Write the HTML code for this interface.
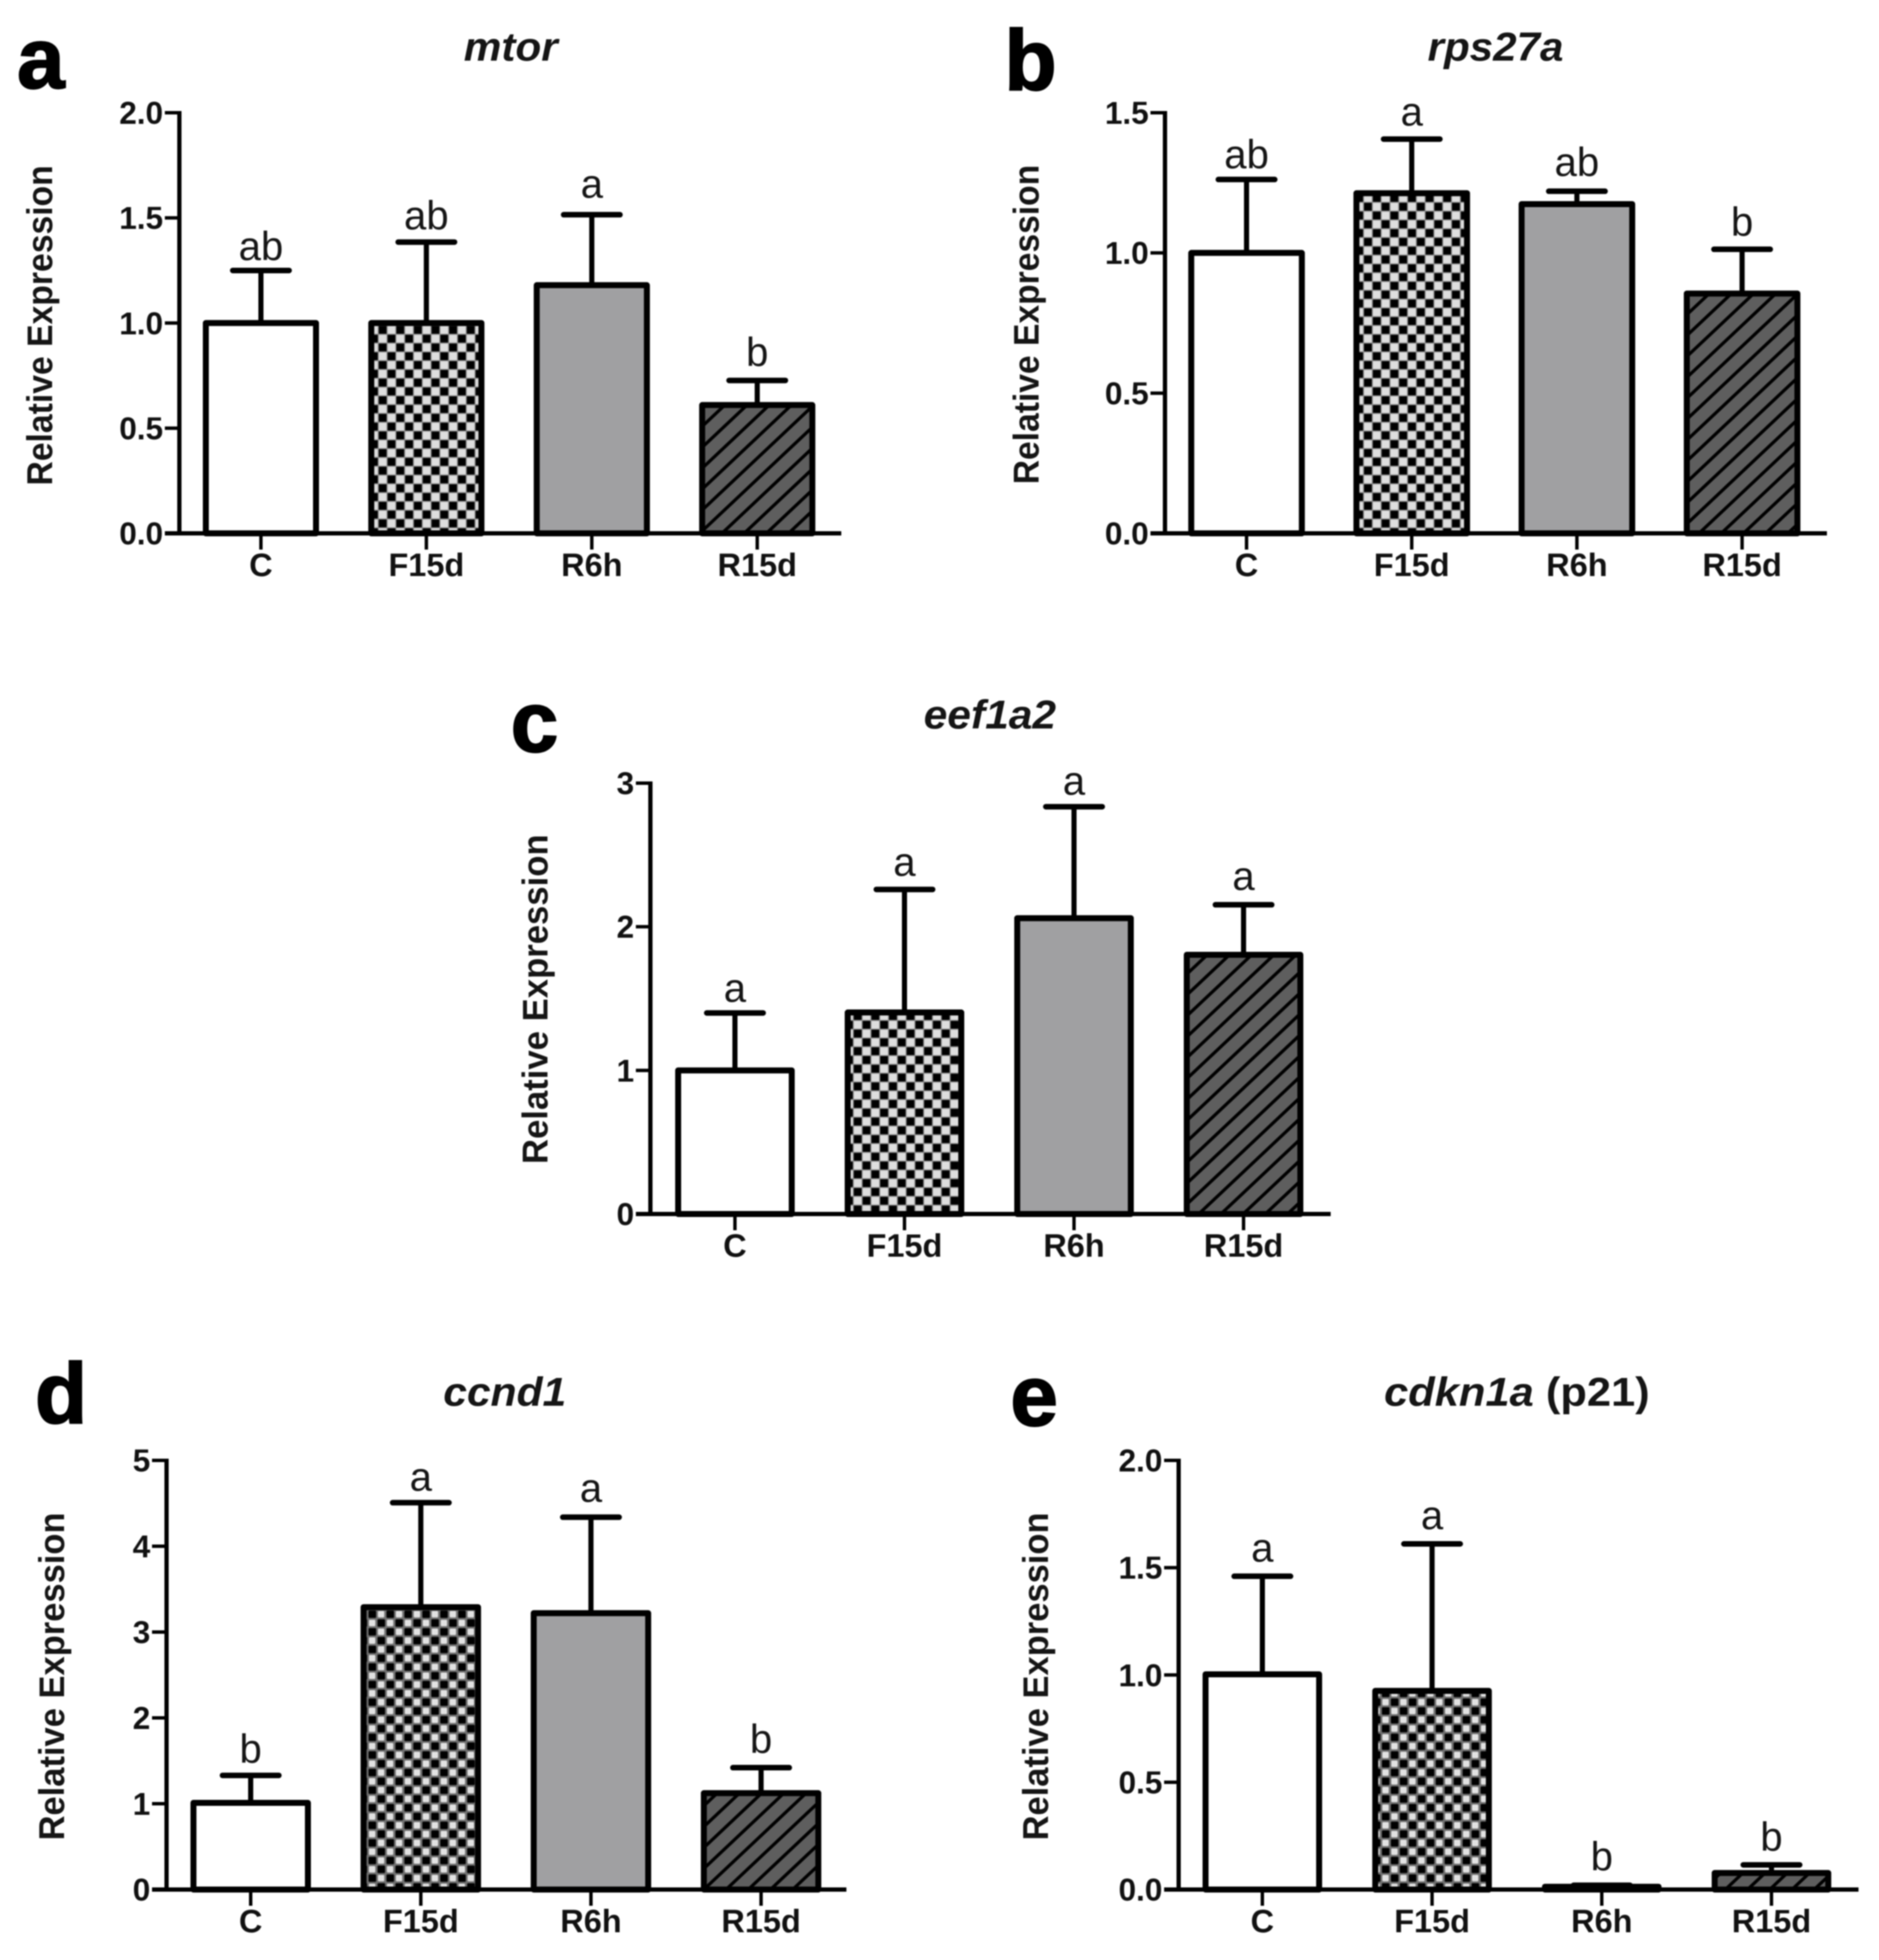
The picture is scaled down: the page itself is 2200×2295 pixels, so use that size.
<!DOCTYPE html>
<html lang="en">
<head>
<meta charset="utf-8">
<title>Relative expression of mtor, rps27a, eef1a2, ccnd1 and cdkn1a</title>
<style>
  html, body { margin: 0; padding: 0; background: #fff; }
  body { width: 2200px; height: 2295px; overflow: hidden; }
  svg { display: block; font-family: "Liberation Sans", Arial, sans-serif; filter: blur(0.7px); }
  .panel-letter { font-size: 100px; font-weight: 700; fill: #000; stroke: #000; stroke-width: 2px; }
  .gene-title { font-size: 47px; font-weight: 700; font-style: italic; fill: #151515; text-anchor: middle; }
  .gene-title .plain { font-style: normal; }
  .y-title { font-size: 42px; font-weight: 700; fill: #151515; text-anchor: middle; }
  .tick-label { font-size: 37px; font-weight: 700; fill: #111; text-anchor: end; }
  .cat-label { font-size: 38px; font-weight: 700; fill: #111; text-anchor: middle; }
  .sig-label { font-size: 47px; fill: #151515; text-anchor: middle; }
</style>
</head>
<body>
<svg id="figure" xmlns="http://www.w3.org/2000/svg" width="2200" height="2295" viewBox="0 0 2200 2295">
  <defs>
    <pattern id="checker" patternUnits="userSpaceOnUse" x="0" y="0" width="20.6" height="20.6">
      <rect width="20.6" height="20.6" fill="#8a8a8a"/>
      <rect x="0.6" y="0.6" width="9.1" height="9.1" fill="#000"/>
      <rect x="10.9" y="10.9" width="9.1" height="9.1" fill="#000"/>
      <rect x="10.9" y="0.6" width="9.1" height="9.1" fill="#dedede"/>
      <rect x="0.6" y="10.9" width="9.1" height="9.1" fill="#dedede"/>
    </pattern>
    <pattern id="checker-soft" patternUnits="userSpaceOnUse" x="0" y="0" width="21" height="20.6">
      <rect width="21" height="20.6" fill="#707070"/>
      <rect x="1" y="0.8" width="8.8" height="8.8" rx="1" fill="#000"/>
      <rect x="11.5" y="11.1" width="8.8" height="8.8" rx="1" fill="#000"/>
      <rect x="12" y="1.5" width="7.4" height="7.4" rx="1" fill="#e2e2e2"/>
      <rect x="1.5" y="11.8" width="7.4" height="7.4" rx="1" fill="#e2e2e2"/>
    </pattern>
    <pattern id="hatch" patternUnits="userSpaceOnUse" x="0" y="0" width="26" height="24.5">
      <rect width="26" height="24.5" fill="#5e5e5e"/>
      <path d="M-6.5 6.125 L6.5 -6.125 M-6.5 30.625 L32.5 -6.125 M19.5 30.625 L32.5 18.375" stroke="#000" stroke-width="3.8" fill="none"/>
    </pattern>
  </defs>

  <!-- Panel letters -->
  <text class="panel-letter" x="20" y="103">a</text>
  <text class="panel-letter" x="1176" y="105">b</text>
  <text class="panel-letter" x="598" y="880">c</text>
  <text class="panel-letter" x="41" y="1666">d</text>
  <text class="panel-letter" x="1183" y="1669">e</text>

  <!-- Gene titles -->
  <text class="gene-title" x="598" y="71" textLength="110" lengthAdjust="spacingAndGlyphs">mtor</text>
  <text class="gene-title" x="1751" y="71" textLength="159" lengthAdjust="spacingAndGlyphs">rps27a</text>
  <text class="gene-title" x="1159" y="853" textLength="155" lengthAdjust="spacingAndGlyphs">eef1a2</text>
  <text class="gene-title" x="591" y="1646" textLength="144" lengthAdjust="spacingAndGlyphs">ccnd1</text>
  <text class="gene-title" x="1776" y="1646" textLength="311" lengthAdjust="spacingAndGlyphs">cdkn1a <tspan class="plain">(p21)</tspan></text>

  <!-- Y axis titles -->
  <text class="y-title" transform="translate(61 381) rotate(-90)" textLength="375" lengthAdjust="spacingAndGlyphs">Relative Expression</text>
  <text class="y-title" transform="translate(1216 380) rotate(-90)" textLength="374" lengthAdjust="spacingAndGlyphs">Relative Expression</text>
  <text class="y-title" transform="translate(641 1170) rotate(-90)" textLength="386" lengthAdjust="spacingAndGlyphs">Relative Expression</text>
  <text class="y-title" transform="translate(75 1963) rotate(-90)" textLength="384" lengthAdjust="spacingAndGlyphs">Relative Expression</text>
  <text class="y-title" transform="translate(1227 1963) rotate(-90)" textLength="384" lengthAdjust="spacingAndGlyphs">Relative Expression</text>

  <g id="charts"></g>
</svg>

<script>
// ---- Chart data ----
const categories = ['C', 'F15d', 'R6h', 'R15d'];

const mtorTicks = ['0.0', '0.5', '1.0', '1.5', '2.0'];
const mtorMeans = [1.00, 1.00, 1.18, 0.61];
const mtorErrorTops = [1.25, 1.385, 1.515, 0.727];
const mtorLetters = ['ab', 'ab', 'a', 'b'];

const rps27aTicks = ['0.0', '0.5', '1.0', '1.5'];
const rps27aMeans = [1.00, 1.213, 1.174, 0.855];
const rps27aErrorTops = [1.262, 1.406, 1.22, 1.013];
const rps27aLetters = ['ab', 'a', 'ab', 'b'];

const eef1a2Ticks = ['0', '1', '2', '3'];
const eef1a2Means = [1.00, 1.403, 2.06, 1.805];
const eef1a2ErrorTops = [1.40, 2.26, 2.836, 2.153];
const eef1a2Letters = ['a', 'a', 'a', 'a'];

const ccnd1Ticks = ['0', '1', '2', '3', '4', '5'];
const ccnd1Means = [1.01, 3.29, 3.22, 1.123];
const ccnd1ErrorTops = [1.33, 4.507, 4.338, 1.42];
const ccnd1Letters = ['b', 'a', 'a', 'b'];

const cdkn1aTicks = ['0.0', '0.5', '1.0', '1.5', '2.0'];
const cdkn1aMeans = [1.003, 0.926, 0.013, 0.077];
const cdkn1aErrorTops = [1.46, 1.611, 0.02, 0.115];
const cdkn1aLetters = ['a', 'a', 'b', 'b'];

// ---- Drawing ----
const SVG_NS = 'http://www.w3.org/2000/svg';
const root = document.getElementById('charts');

function make(parent, tag, attrs, text) {
  const node = document.createElementNS(SVG_NS, tag);
  Object.keys(attrs).forEach(function (k) { node.setAttribute(k, attrs[k]); });
  if (text !== undefined) node.textContent = text;
  parent.appendChild(node);
  return node;
}

function drawPanel(gene, ticks, means, errorTops, letters, frame) {
  const tickValues = ticks.map(Number);
  const yMax = Math.max.apply(null, tickValues);
  const yScale = function (v) { return frame.bottom - (v / yMax) * (frame.bottom - frame.top); };
  const xScale = function (i) { return frame.firstCenter + i * frame.step; };
  const fills = ['#ffffff', 'url(#' + frame.checker + ')', '#a0a0a2', 'url(#hatch)'];

  const panel = make(root, 'g', {});
  
  

  categories.forEach(function (cat, i) {
    const cx = xScale(i);
    const topY = yScale(means[i]);
    const errY = yScale(errorTops[i]);

    const stem = make(panel, 'line', { x1: cx, x2: cx, y1: topY, y2: errY, stroke: '#000', 'stroke-width': 6 });
    
    

    const cap = make(panel, 'line', { x1: cx - 33, x2: cx + 33, y1: errY, y2: errY, stroke: '#000', 'stroke-width': 6.5, 'stroke-linecap': 'round' });
    
    

    const bar = make(panel, 'rect', {
      x: cx - frame.barWidth / 2,
      y: topY,
      width: frame.barWidth,
      height: Math.max(frame.bottom - topY, 0),
      fill: fills[i],
      stroke: '#000',
      'stroke-width': 7,
      'stroke-linejoin': 'round'
    });
    
    

    const sig = make(panel, 'text', { class: 'sig-label', x: cx, y: errY - frame.letterLift[i] }, letters[i]);
    
    

    const xTick = make(panel, 'line', { x1: cx, x2: cx, y1: frame.bottom, y2: frame.bottom + 19, stroke: '#000', 'stroke-width': 4 });
    
    

    const label = make(panel, 'text', { class: 'cat-label', x: cx, y: frame.bottom + 50 }, cat);
    
    
  });

  const yAxis = make(panel, 'line', { x1: frame.axisX, x2: frame.axisX, y1: frame.top - 2, y2: frame.bottom + 2.5, stroke: '#000', 'stroke-width': 5 });
  
  

  const xAxis = make(panel, 'line', { x1: frame.axisX - 17, x2: frame.xEnd, y1: frame.bottom, y2: frame.bottom, stroke: '#000', 'stroke-width': 5 });
  
  

  ticks.forEach(function (t, i) {
    const y = yScale(tickValues[i]);
    const tick = make(panel, 'line', { x1: frame.axisX - 17, x2: frame.axisX, y1: y, y2: y, stroke: '#000', 'stroke-width': 4 });
    
    

    const label = make(panel, 'text', { class: 'tick-label', x: frame.axisX - 19, y: y + 13 }, t);
    
    
  });
}

drawPanel('mtor', mtorTicks, mtorMeans, mtorErrorTops, mtorLetters,
  { axisX: 210, top: 132, bottom: 624.5, xEnd: 985, firstCenter: 305.5, step: 193.7, barWidth: 129, checker: 'checker', letterLift: [12, 15, 20, 17] });
drawPanel('rps27a', rps27aTicks, rps27aMeans, rps27aErrorTops, rps27aLetters,
  { axisX: 1364, top: 132, bottom: 624.5, xEnd: 2139, firstCenter: 1459.5, step: 193.4, barWidth: 129.5, checker: 'checker', letterLift: [13, 16, 18, 16] });
drawPanel('eef1a2', eef1a2Ticks, eef1a2Means, eef1a2ErrorTops, eef1a2Letters,
  { axisX: 761.5, top: 917, bottom: 1421.5, xEnd: 1558, firstCenter: 860.5, step: 198.5, barWidth: 133, checker: 'checker', letterLift: [13, 16, 14, 17.5] });
drawPanel('ccnd1', ccnd1Ticks, ccnd1Means, ccnd1ErrorTops, ccnd1Letters,
  { axisX: 195, top: 1710, bottom: 2212.5, xEnd: 991, firstCenter: 293.5, step: 199.2, barWidth: 134, checker: 'checker-soft', letterLift: [15, 14, 18, 17.5] });
drawPanel('cdkn1a', cdkn1aTicks, cdkn1aMeans, cdkn1aErrorTops, cdkn1aLetters,
  { axisX: 1380, top: 1710, bottom: 2212.5, xEnd: 2176, firstCenter: 1478, step: 198.7, barWidth: 133, checker: 'checker-soft', letterLift: [17, 17, 17.5, 16.5] });
</script>
</body>
</html>
